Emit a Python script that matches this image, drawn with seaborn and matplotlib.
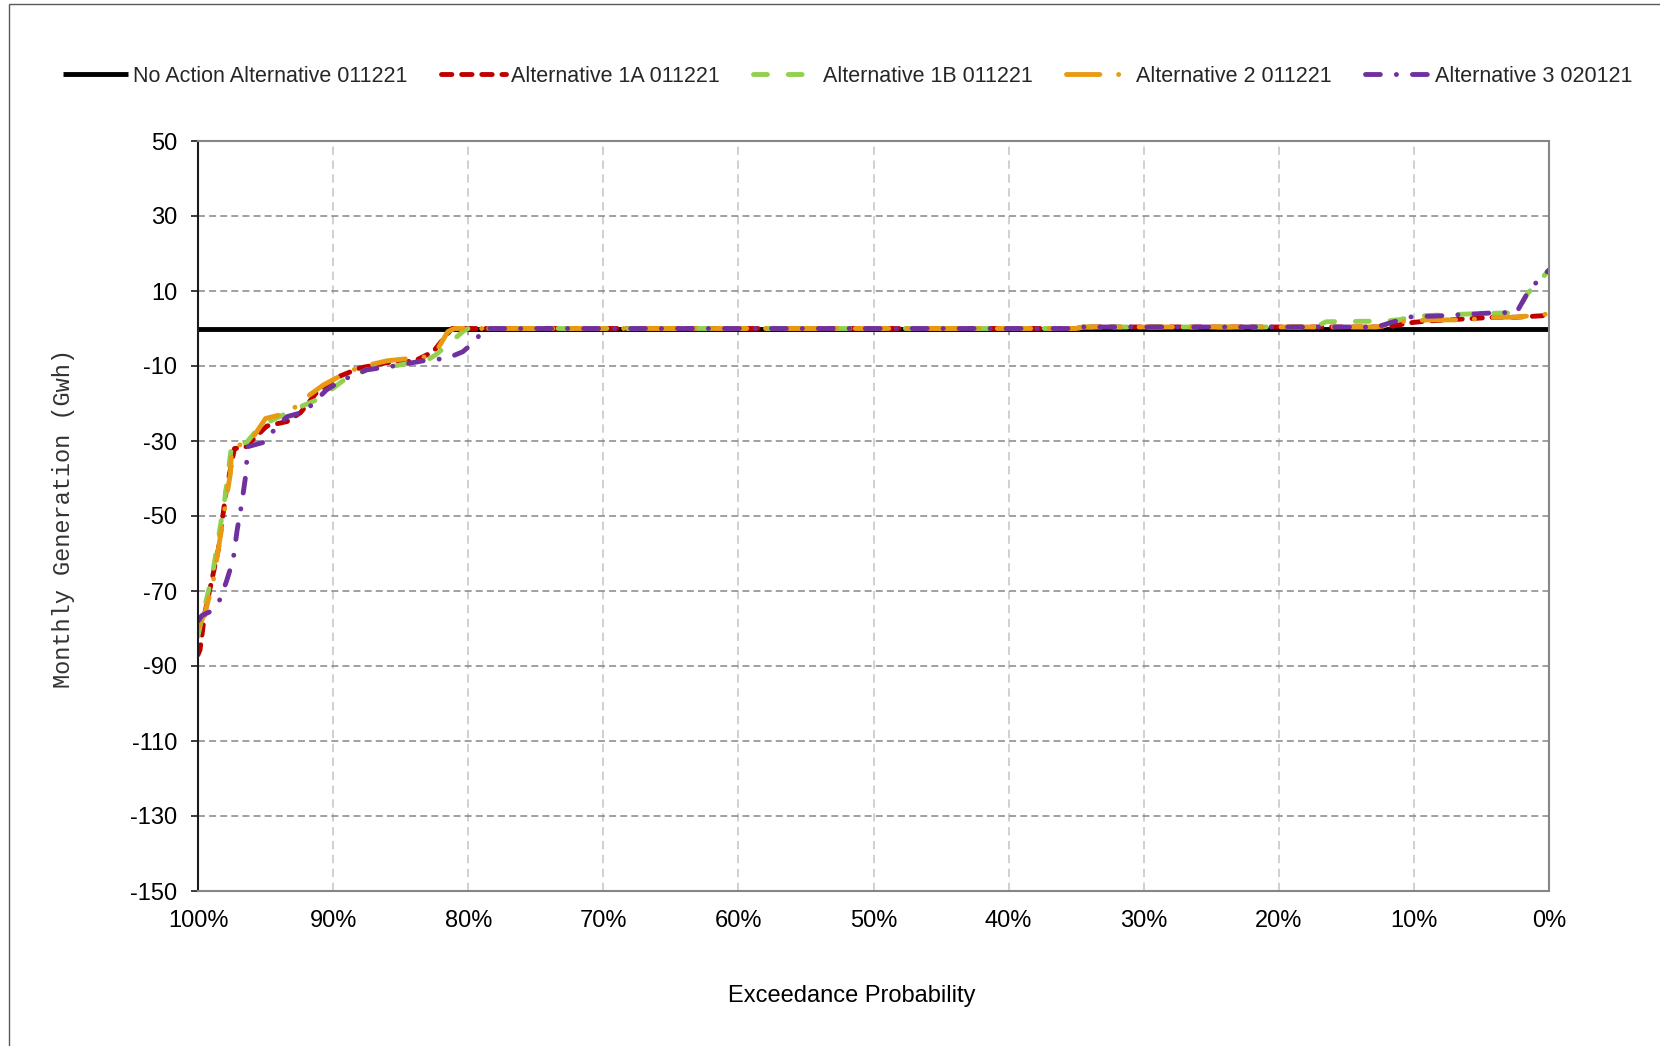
import matplotlib
matplotlib.use("Agg")
import matplotlib.pyplot as plt
from matplotlib.patches import Rectangle
import seaborn as sns
import pandas as pd

# Exceedance probability (%) and monthly generation change (GWh) for each alternative
no_action_x = [100, 0]
no_action_y = [0, 0]

alt1a_x = [100, 99.85, 99.5, 98.5, 97.9, 97.3, 96.5, 95.7, 94.9, 93.4, 92.4, 91.2, 89.7,
           88.0, 86.0, 84.0, 82.6, 81.6, 81.2, 35, 34.5, 12, 10.1, 9, 7, 4, 2.5, 0]
alt1a_y = [-87, -85.7, -76, -59, -43, -32, -31.7, -28.8, -26, -24.8, -22.4, -17, -13,
           -10.5, -9.1, -8.7, -6.2, -1.7, 0, 0, 0.4, 0.4, 1.6, 2.0, 2.4, 3.0, 3.0, 3.5]

alt1b_x = [100, 99.85, 98.9, 98.0, 97.5, 96.4, 95.4, 92.7, 91.2, 90.5, 89.3, 87.5, 85.5,
           83.0, 82.4, 81.4, 80.4, 80.0, 35, 34.5, 17.3, 16.5, 12.0, 11.0, 10.0, 8.0,
           5.0, 2.4, 1.6, 0]
alt1b_y = [-82, -79.5, -65, -45, -30.8, -30.4, -26, -21.3, -19, -17.3, -14, -11, -10,
           -8.4, -7, -4, -0.8, 0, 0, 0.4, 0.4, 1.8, 2.0, 2.4, 3.3, 3.6,
           4.0, 4.2, 9.3, 15.5]

alt2_x = [100, 99.5, 98.9, 97.6, 97.5, 96.2, 95.0, 93.9, 93.2, 92.0, 90.7, 88.7, 87.3,
          86.0, 83.0, 82.3, 81.5, 81.0, 35, 34.5, 12.8, 12.0, 11.1, 10.0, 8.9, 6.2,
          4.0, 2.5, 0]
alt2_y = [-80, -76, -68, -38.6, -31.5, -30.5, -24, -23, -22.2, -18.4, -15, -11.2, -9.7,
          -8.6, -7.5, -5.7, -0.8, 0, 0, 0.4, 0.4, 0.9, 1.8, 2.1, 2.3, 2.3,
          3.0, 3.0, 3.9]

alt3_x = [100, 99.7, 99.1, 98.4, 97.9, 97.4, 97.1, 96.8, 96.5, 96.3, 95.0, 94.2, 93.4,
          92.1, 90.5, 89.3, 87.5, 85.5, 83.0, 81.6, 80.4, 79.4, 78.9, 35, 34.5, 12.8,
          12.3, 11.5, 10.1, 8.5, 4.0, 2.4, 1.6, 0.8, 0]
alt3_y = [-78, -76.5, -75.5, -72.4, -67.5, -61.7, -53.7, -47.5, -40, -31.5, -30.2, -26.2,
          -23.5, -22.2, -16.4, -13.7, -11, -10, -8.4, -8, -6.2, -3.1, 0, 0, 0.4, 0.4,
          0.9, 1.8, 3.2, 3.3, 4.2, 4.3, 9.4, 12.9, 15.6]

series_names = ["No Action Alternative 011221", "Alternative 1A 011221",
                "Alternative 1B 011221", "Alternative 2 011221", "Alternative 3 020121"]

x_ticks = list(range(100, -1, -10))
x_tick_labels = [f"{v}%" for v in x_ticks]
y_ticks = list(range(-150, 51, 20))

sns.set_theme(style="white")
plt.rcParams["font.family"] = ["Liberation Sans", "DejaVu Sans"]
plt.rcParams["axes.unicode_minus"] = False
plt.rcParams["lines.scale_dashes"] = False

fig = plt.figure(figsize=(16.6, 10.46), dpi=100)
ax = fig.add_axes([198 / 1660, 1 - 891 / 1046, 1351 / 1660, 750 / 1046])

series = [
    (no_action_x, no_action_y, "#000000", "-", 3.5),
    (alt1a_x, alt1a_y, "#C00000", (0, (7.5, 7.0)), 3.5),
    (alt1b_x, alt1b_y, "#92D050", (0, (10, 15)), 3.5),
    (alt2_x, alt2_y, "#E89B12", (0, (24, 13.5, 0.1, 13.5)), 3.5),
    (alt3_x, alt3_y, "#7030A0", (0, (10.7, 11.5, 0.1, 11.5)), 3.5),
]

for (xs, ys, color, ls, lw), name in zip(series, series_names):
    df = pd.DataFrame({"exceedance": xs, "generation": ys})
    sns.lineplot(data=df, x="exceedance", y="generation", color=color, linestyle=ls,
                 linewidth=lw, sort=False, estimator=None, ax=ax, label=name,
                 solid_capstyle="butt", dash_capstyle="round")

ax.set_xlim(100, 0)
ax.set_ylim(-150, 50)
ax.set_xticks(x_ticks)
ax.set_xticklabels(x_tick_labels)
ax.set_yticks(y_ticks)
ax.set_yticklabels([str(v) for v in y_ticks])

ax.set_axisbelow(True)
ax.yaxis.grid(True, color="#868686", linestyle=(0, (5, 3)), linewidth=1.1)
ax.xaxis.grid(True, color="#C4C4C4", linestyle=(0, (6, 4)), linewidth=1.1)

for side in ["top", "right", "bottom"]:
    ax.spines[side].set_color("#868686")
    ax.spines[side].set_linewidth(1.5)
ax.spines["left"].set_color("#1a1a1a")
ax.spines["left"].set_linewidth(1.5)

ax.tick_params(axis="y", which="major", left=True, length=5, width=1.2, color="#1a1a1a",
               direction="out", pad=10, labelsize=17, labelcolor="black")
ax.tick_params(axis="x", which="major", bottom=False, length=0, pad=14,
               labelsize=17, labelcolor="black")

# Category axis crossing at zero: small tick marks hanging from the baseline
zero_axis = ax.secondary_xaxis(0.75)
zero_axis.set_xticks(x_ticks)
zero_axis.tick_params(axis="x", direction="in", length=5, width=1.2, color="black",
                      labeltop=False, labelbottom=False)
for sp in zero_axis.spines.values():
    sp.set_visible(False)

ax.set_xlabel("Exceedance Probability", fontsize=17, color="black")
ax.xaxis.set_label_coords((852 - 198) / 1351, (891 - 996) / 750)
ax.xaxis.label.set_va("center")
ax.set_ylabel("Monthly Generation (Gwh)", fontsize=17, color="#333333",
              family=["Liberation Mono", "DejaVu Sans Mono"])
ax.yaxis.set_label_coords((63.5 - 198) / 1351, 0.496)
ax.yaxis.label.set_va("center")

handles, labels = ax.get_legend_handles_labels()
ax.legend(handles, labels, loc="center", bbox_to_anchor=(848 / 1660, 1 - 76 / 1046),
          bbox_transform=fig.transFigure, ncol=5, frameon=False, fontsize=15.5,
          handlelength=3.0, handletextpad=0.25, columnspacing=1.55, borderaxespad=0)

# Chart-area frame
fig.add_artist(Rectangle((8.5 / 1660, -0.05), 2.0, 1.05 - 4.5 / 1046, fill=False,
                         edgecolor="#595959", linewidth=1.0, transform=fig.transFigure,
                         clip_on=False))

fig.savefig("out.png", dpi=100)
